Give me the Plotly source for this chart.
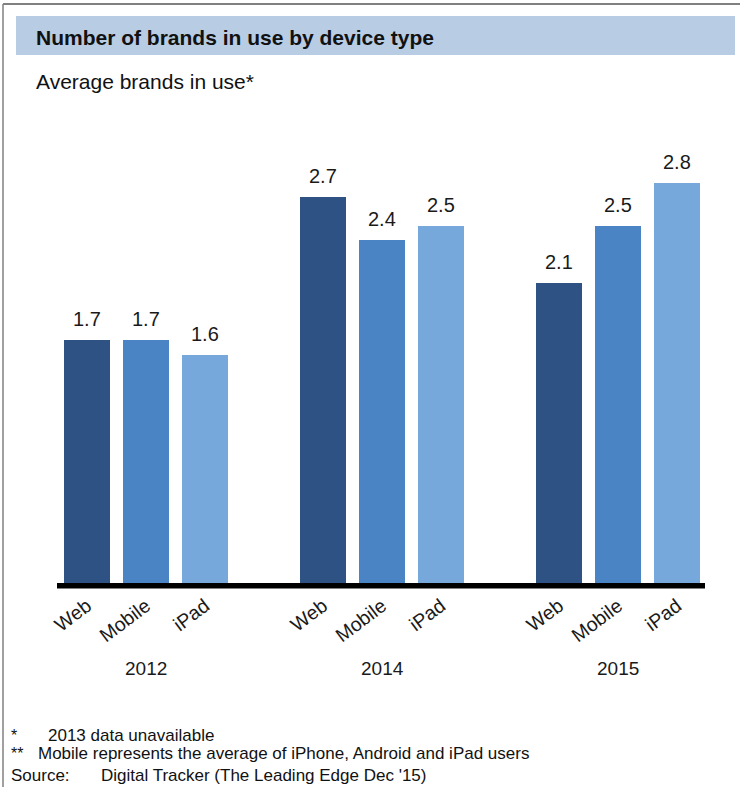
import plotly.graph_objects as go

years = ["2012", "2014", "2015"]
devices = ["Web", "Mobile", "iPad"]
web = [1.7, 2.7, 2.1]
mobile = [1.7, 2.4, 2.5]
ipad = [1.6, 2.5, 2.8]
colors = ["#2E5283", "#4A84C4", "#76A8DB"]

series = [web, mobile, ipad]
GROUP_STEP = 4

FONT = "Liberation Sans, Arial, sans-serif"
TXT = "#1a1a1a"

fig = go.Figure()
tickvals, ticktext = [], []
for d, (name, vals, col) in enumerate(zip(devices, series, colors)):
    xs = [g * GROUP_STEP + d for g in range(len(years))]
    tickvals += xs
    ticktext += [name] * len(xs)
    fig.add_trace(go.Bar(x=xs, y=vals, name=name, marker=dict(color=col, line=dict(width=0)),
                         width=0.78, showlegend=False, hoverinfo="skip"))
    for x, v in zip(xs, vals):
        fig.add_annotation(x=x, y=v, text=f"{v:.1f}", showarrow=False, yshift=21,
                           yanchor="middle", xanchor="center",
                           font=dict(family=FONT, size=20, color=TXT))

for g, yr in enumerate(years):
    fig.add_annotation(x=g * GROUP_STEP + 1, y=0, yref="y", text=yr, showarrow=False,
                       yshift=-85, yanchor="middle", font=dict(family=FONT, size=19, color=TXT))

W, H = 740, 787
L, R = 60, 705
TOP_Y, BASE_Y = 126, 583
UNIT = 142.8
ymax = (BASE_Y - TOP_Y) / UNIT
x0 = 87
xmin = (L - x0) / 59.0
xmax = (R - x0) / 59.0
PH = BASE_Y - TOP_Y
PW = R - L

fig.update_layout(
    width=W, height=H,
    margin=dict(l=L, r=W - R, t=TOP_Y, b=H - BASE_Y),
    paper_bgcolor="white", plot_bgcolor="white",
    bargap=0,
    xaxis=dict(range=[xmin, xmax], tickvals=tickvals, ticktext=ticktext, tickangle=-37,
               showgrid=False, zeroline=False, showline=False, ticks="",
               ticklabelstandoff=7,
               tickfont=dict(family=FONT, size=19.5, color=TXT)),
    yaxis=dict(range=[0, ymax], visible=False, showgrid=False, zeroline=False),
    font=dict(family=FONT),
)

def px(x):
    return (x - L) / PW

def py(y):
    return 1 + (TOP_Y - y) / PH

# baseline
fig.add_shape(type="rect", xref="paper", yref="paper", x0=px(57), x1=px(705),
              y0=py(588.5), y1=py(583), fillcolor="black", line=dict(width=0))

# frame lines (top and left)
fig.add_shape(type="line", xref="paper", yref="paper", x0=px(3), x1=px(W),
              y0=py(4), y1=py(4), line=dict(color="#808080", width=2))
fig.add_shape(type="line", xref="paper", yref="paper", x0=px(3), x1=px(3),
              y0=py(4), y1=py(H), line=dict(color="#808080", width=1.5))

# header band
fig.add_shape(type="rect", xref="paper", yref="paper", x0=px(16), x1=px(735),
              y0=py(55), y1=py(16), fillcolor="#B8CCE4", line=dict(width=0), layer="below")

def ptext(x, y, text, size, bold=False):
    fig.add_annotation(xref="paper", yref="paper", x=px(x), y=py(y),
                       text=f"<b>{text}</b>" if bold else text, showarrow=False,
                       xanchor="left", yanchor="middle",
                       font=dict(family=FONT, size=size, color="#111111"))

ptext(34, 37, "Number of brands in use by device type", 21, bold=True)
ptext(34, 82, "Average brands in use*", 21)
ptext(9, 735, "*", 16)
ptext(46, 735, "2013 data unavailable", 17)
ptext(9, 753, "**", 16)
ptext(36, 753, "Mobile represents the average of iPhone, Android and iPad users", 17)
ptext(9, 775, "Source:", 17)
ptext(99, 775, "Digital Tracker (The Leading Edge Dec '15)", 17)

fig.write_html("out.html", config={"displayModeBar": False},
               post_script="document.body.style.margin='0';")
